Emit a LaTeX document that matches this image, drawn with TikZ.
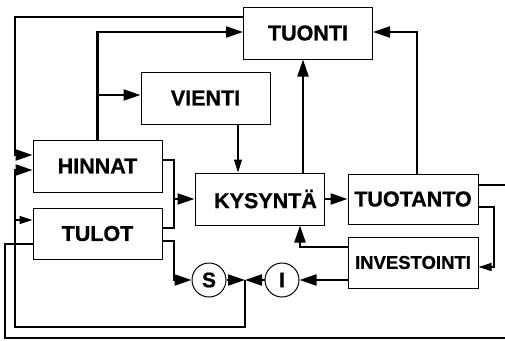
\documentclass[tikz,border=0pt]{standalone}
\usepackage{fontspec}
\setmainfont{Liberation Sans}
\newfontfamily\heavy[FakeBold=1.0]{Liberation Sans Bold}
\usetikzlibrary{arrows.meta}
\begin{document}
\begin{tikzpicture}[x=1pt,y=-1pt,
 box/.style={draw, line width=1pt, minimum width=129pt, minimum height=52pt, inner sep=0pt, font=\fontsize{21.5}{21.5}\heavy},
 circ/.style={draw, circle, line width=1pt, minimum size=34pt, inner sep=0pt, font=\fontsize{21}{21}\heavy},
 conn/.style={line width=2.1pt, line join=miter},
 thinconn/.style={line width=1.2pt},
 big/.style={-{Triangle[length=17pt,width=11pt]}},
 small/.style={-{Triangle[length=13pt,width=8pt]}},
]
\useasboundingbox (0,0) rectangle (505,340);
\node[box] (tuonti) at (308,33) {TUONTI};
\node[box] (vienti) at (205.5,98) {VIENTI};
\node[box] (hinnat) at (97.5,166) {HINNAT};
\node[box, minimum height=51pt] (tulot) at (97.5,233.5) {TULOT};
\node[box] (kysynta) at (259.5,199) {\hspace*{12pt}KYSYNTÄ};
\node[box, minimum width=130pt, minimum height=50pt] (tuotanto) at (413,199) {TUOTANTO};
\node[box, minimum width=130pt, minimum height=51pt, font=\fontsize{18.5}{18.5}\heavy] (invest) at (413,262.5) {INVESTOINTI};
\node[circ] (s) at (209,280) {S};
\node[circ] (i) at (282,280) {I};
\coordinate (j) at (245,280);

% top loop TUONTI -> HINNAT
\draw[conn,big] (tuonti.west |- 0,17) -- (15,17) -- (15,155) -- (hinnat.west |- 0,155);
% HINNAT -> TUONTI, VIENTI
\draw[conn,big] (hinnat.north) |- (tuonti.west |- 0,32);
\draw[conn,big] (97.5,95) -- (vienti.west |- 0,95);
% VIENTI -> KYSYNTA
\draw[thinconn,small] (vienti.south -| 238,0) -- (kysynta.north -| 238,0);
% KYSYNTA -> TUONTI
\draw[conn,big] (kysynta.north -| 303,0) -- (tuonti.south -| 303,0);
% TUOTANTO -> TUONTI
\draw[conn,big] (tuotanto.north -| 417,0) |- (tuonti.east |- 0,32);
% HINNAT, TULOT -> KYSYNTA
\draw[conn] (hinnat.east |- 0,160) -| (174,228) -- (tulot.east |- 0,228);
\draw[conn,big] (174,199) -- (kysynta.west);
% TULOT -> S
\draw[conn,big] (tulot.east |- 0,241) -| (174,280) -- (s.west);
% INVESTOINTI -> I, S/I junction
\draw[conn,big] (invest.west |- 0,280) -- (i.east);
\draw[conn,big] (i.west) -- (j);
\draw[conn,big] (s.east) -- (j);
\draw[conn,big] (j) |- (15,327) -- (15,170) -- (hinnat.west |- 0,170);
\draw[thinconn,small] (15,220) -- (tulot.west |- 0,220);
% INVESTOINTI -> KYSYNTA
\draw[conn,big] (invest.west |- 0,247) -| (kysynta.south -| 300,0);
% TUOTANTO -> INVESTOINTI
\draw[thinconn,small] (tuotanto.east |- 0,207) -| (494,267) -- (invest.east |- 0,267);
% KYSYNTA -> TUOTANTO
\draw[conn,big] (kysynta.east) -- (tuotanto.west);
% outer loop TUOTANTO -> TULOT
\draw[conn] (tuotanto.east |- 0,185) -- (520,185) -- (520,338) -- (5,338) -- (5,244) -- (tulot.west |- 0,244);
\end{tikzpicture}
\end{document}
